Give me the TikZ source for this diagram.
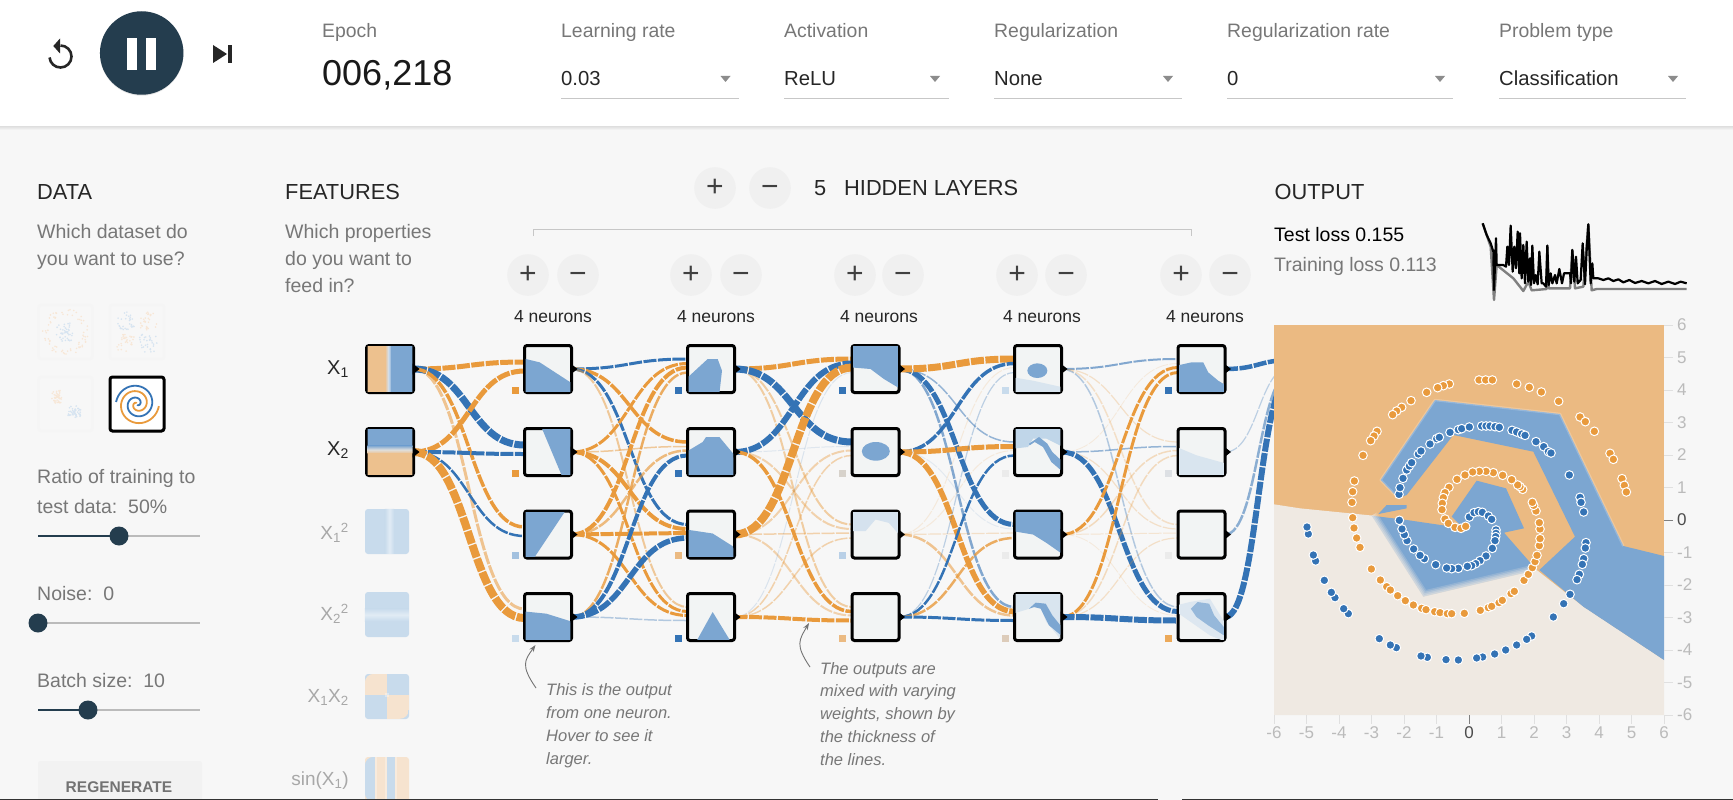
\documentclass[tikz,border=0pt]{standalone}
\usepackage{fontspec}
\setmainfont{Liberation Sans}
\usetikzlibrary{calc,backgrounds,shadows,arrows.meta}

\definecolor{pagebg}{HTML}{F7F7F7}
\definecolor{navy}{HTML}{243D4E}
\definecolor{linko}{HTML}{E99A3C}
\definecolor{linkb}{HTML}{3473B5}
\definecolor{heato}{HTML}{EBBA82}
\definecolor{heatg}{HTML}{EFE9E2}
\definecolor{heatb}{HTML}{7CA6D1}
\definecolor{thumbbg}{HTML}{F2F4F4}
\definecolor{paleb}{HTML}{C8DBEC}
\definecolor{paleo}{HTML}{F6E3CF}
\definecolor{midgray}{HTML}{777777}
\definecolor{axisgray}{HTML}{BBBBBB}

\newcommand{\fsize}[1]{\fontsize{#1}{#1}\selectfont}
% small picture inside a box, coordinates are 3x pixels from its outer corner
\newcommand{\blob}[3][heatb]{\begin{scope}[shift={($(#2.north west)+(-1.5,-1.5)$)}, scale=1/3]
    \clip (8,8) rectangle (142,142);
    \fill[#1] #3;
\end{scope}}
\newcommand{\fblob}[3][heatb]{\begin{scope}[shift={(#2.north west)}, scale=1/3]
    \clip[rounded corners=9pt] (0,0) rectangle (132,135);
    \fill[#1] #3;
\end{scope}}

\begin{document}
\begin{tikzpicture}[
    x=1pt, y=-1pt,
    heading/.style={anchor=base west, inner sep=0, font=\fsize{21.8}, text=black!85},
    caption/.style={anchor=base west, inner sep=0, font=\fsize{19.4}, text=midgray},
    choice/.style={anchor=base west, inner sep=0, font=\fsize{20.3}, text=black!85},
    para/.style={anchor=north west, inner sep=0, align=left, text=midgray, font=\fontsize{19.5}{27}\selectfont},
    note/.style={anchor=north west, inner sep=0, align=left, text=midgray, font=\fontsize{16.5}{22.8}\selectfont\itshape},
    roundbtn/.style={circle, fill=black!6, minimum size=41.6pt, inner sep=0, text=black!75, font=\fsize{30}},
    neuronlbl/.style={inner sep=0, font=\fsize{17.5}, text=black!85},
    neuron/.style={rectangle, draw=black, line width=3pt, fill=thumbbg, minimum size=47pt, inner sep=0, outer sep=0, rounded corners=2.5pt,
        drop shadow={opacity=.18, shadow xshift=0pt, shadow yshift=-1.5pt}},
    feature/.style={rectangle, fill=paleb, minimum width=44pt, minimum height=45pt, inner sep=0, rounded corners=3pt},
    featlbl/.style={anchor=base east, inner sep=0, font=\fsize{19}, text=axisgray!90!black},
    bias/.style={rectangle, minimum size=7pt, inner sep=0},
    dataset/.style={rectangle, draw=black!4, line width=2.5pt, minimum size=54pt, inner sep=0, rounded corners=2.5pt},
    drop/.style={fill=black!45},
    rule/.style={draw=black!22, line width=1.2pt},
    wire/.style={dash pattern=on 13pt off 1.5pt, to path={let \p1=(\tikztostart), \p2=(\tikztotarget) in
        .. controls ({(\x1+\x2)/2},\y1) and ({(\x1+\x2)/2},\y2) .. (\p2)}},
    wo/.style={wire, draw=linko, line width=#1},
    wb/.style={wire, draw=linkb, line width=#1},
    track/.style={draw=axisgray, line width=2.5pt},
    filled/.style={draw=navy, line width=2.5pt},
    knob/.style={circle, fill=navy, minimum size=19pt, inner sep=0},
    pointo/.style={fill=linko, draw=white, line width=1pt},
    pointb/.style={fill=linkb, draw=white, line width=1pt},
    tick/.style={draw=black!12, line width=1pt},
    axlbl/.style={inner sep=0, font=\fsize{17}, text=axisgray}
]
\useasboundingbox (0,0) rectangle (1733,800);

% Fond et bandeau du haut
\begin{pgfonlayer}{background}
\fill[pagebg] (0,0) rectangle (1733,800);
\shade[top color=black!13, bottom color=pagebg] (0,126) rectangle (1733,130);
\fill[white] (0,0) rectangle (1733,126);
\end{pgfonlayer}

% Boutons de lecture
\draw[black!85, line width=2.6pt] (60.5,45.5) arc[start angle=90, end angle=-175, radius=11pt];
\fill[black!85] (60,38.5) -- (53.3,46) -- (60,53.5) -- cycle;
\node[circle, fill=navy, minimum size=83.5pt, inner sep=0, drop shadow={opacity=.2, shadow xshift=0pt, shadow yshift=-1pt}] (play) at (141.7,53) {};
\fill[white] (127,37.7) rectangle (136.7,70);
\fill[white] (146.3,37.7) rectangle (156,70);
\fill[black!85] (213,45) -- (227,54) -- (213,63) -- cycle;
\fill[black!85] (228,45) rectangle (232,63);

% Menus du haut
\node[caption] (epoch) at (322,38) {Epoch};
\node[anchor=base west, inner sep=0, font=\fsize{36}, text=black!90] (count) at (322,85) {006,218};

\node[caption] (lrate) at (561,38) {Learning rate};
\node[choice] (lrateval) at (561,85) {0.03};
\draw[rule] (561,98.7) -- (739,98.7);
\fill[drop] (720.5,76) -- (730.5,76) -- (725.5,82) -- cycle;

\node[caption] (activ) at (784,38) {Activation};
\node[choice] (activval) at (784,85) {ReLU};
\draw[rule] (784,98.7) -- (949,98.7);
\fill[drop] (930,76) -- (940,76) -- (935,82) -- cycle;

\node[caption] (regul) at (994,38) {Regularization};
\node[choice] (regulval) at (994,85) {None};
\draw[rule] (994,98.7) -- (1181.5,98.7);
\fill[drop] (1163,76) -- (1173,76) -- (1168,82) -- cycle;

\node[caption] (rrate) at (1227,38) {Regularization rate};
\node[choice] (rrateval) at (1227,85) {0};
\draw[rule] (1227,98.7) -- (1453,98.7);
\fill[drop] (1435,76) -- (1445,76) -- (1440,82) -- cycle;

\node[caption] (ptype) at (1499,38) {Problem type};
\node[choice] (ptypeval) at (1499,85) {Classification};
\draw[rule] (1499,98.7) -- (1686,98.7);
\fill[drop] (1668,76) -- (1678,76) -- (1673,82) -- cycle;

% Colonne des donnees
\node[heading] (data) at (37,199) {DATA};
\node[para] (datatxt) at (37,224) {Which dataset do\\you want to use?};

\node[dataset] (ds1) at (65.5,332) {};
\node[dataset] (ds2) at (137,332) {};
\node[dataset] (ds3) at (65.5,404) {};
\node[dataset, draw=black, line width=3pt, fill=white, drop shadow={opacity=.18, shadow xshift=0pt, shadow yshift=-1.5pt}] (ds4) at (137,404) {};

\colorlet{dotb}{paleb!75!white}
\colorlet{doto}{paleo!85!white}
\pgfmathsetseed{7}
\foreach \i in {1,...,70} {
    \pgfmathsetmacro{\ang}{rnd*360}
    \pgfmathsetmacro{\rad}{17+rnd*6}
    \fill[doto] ({65.5+\rad*cos(\ang)},{332+\rad*sin(\ang)}) circle[radius=.9pt];
}
\foreach \i in {1,...,45} {
    \pgfmathsetmacro{\ang}{rnd*360}
    \pgfmathsetmacro{\rad}{rnd*10}
    \fill[dotb] ({65.5+\rad*cos(\ang)},{332+\rad*sin(\ang)}) circle[radius=.9pt];
    \fill[doto] ({57.3+.6*\rad*cos(\ang)},{396.7+.7*\rad*sin(\ang)}) circle[radius=.9pt];
    \fill[dotb] ({74.3+.7*\rad*sin(\ang)},{412.3+.7*\rad*cos(\ang)}) circle[radius=.9pt];
}
\foreach \cx/\cy/\cc in {126/321/dotb, 148/321/doto, 126/343/doto, 148/343/dotb} {
    \foreach \i in {1,...,30} {
        \fill[\cc] ({\cx-9+rnd*18},{\cy-9+rnd*18}) circle[radius=.9pt];
    }
}
\draw[linko, line width=1.8pt] plot[domain=.04:1, samples=70, smooth] ({137+22*\x*cos(-5-630*(1-\x))},{404-22*\x*sin(-5-630*(1-\x))});
\draw[linkb, line width=1.8pt] plot[domain=.04:1, samples=70, smooth] ({137+21*\x*cos(175-630*(1-\x))},{404-21*\x*sin(175-630*(1-\x))});

\node[para, font=\fontsize{19.5}{30}\selectfont] (ratio) at (37,469) {Ratio of training to\\test data:\ \ 50\%};
\draw[track] (38,536) -- (200,536);
\draw[filled] (38,536) -- (119,536);
\node[knob] (ratiok) at (119,536) {};

\node[anchor=base west, inner sep=0, font=\fsize{19.5}, text=midgray] (noise) at (37,600) {Noise:\ \ 0};
\draw[track] (38,623) -- (200,623);
\node[knob] (noisek) at (38,623) {};

\node[anchor=base west, inner sep=0, font=\fsize{19.5}, text=midgray] (batch) at (37,687) {Batch size:\ \ 10};
\draw[track] (38,710) -- (200,710);
\draw[filled] (38,710) -- (88,710);
\node[knob] (batchk) at (88,710) {};

\node[rectangle, fill=black!5, minimum width=164pt, minimum height=60pt, rounded corners=2.5pt, inner sep=0] (regen) at (120,791) {};
\node[inner sep=0, font=\fsize{15.5}\bfseries, text=black!55] (regentxt) at (119,787) {REGENERATE};

% Colonne des entrees
\node[heading] (feat) at (285,199) {FEATURES};
\node[para] (feattxt) at (285,224) {Which properties\\do you want to\\feed in?};

\node[anchor=base east, inner sep=0, font=\fsize{20}, text=black!85] (lx1) at (349,374) {X\textsubscript{1}};
\node[anchor=base east, inner sep=0, font=\fsize{20}, text=black!85] (lx2) at (349,455) {X\textsubscript{2}};
\node[featlbl] (lx1s) at (349,539) {X\textsubscript{1}\textsuperscript{2}};
\node[featlbl] (lx2s) at (349,620) {X\textsubscript{2}\textsuperscript{2}};
\node[featlbl] (lx1x2) at (349,702) {X\textsubscript{1}X\textsubscript{2}};
\node[featlbl] (lsin) at (349,785) {sin(X\textsubscript{1})};

\node[neuron] (x1) at (390,369) {};
\node[neuron] (x2) at (390,452) {};
\blob[{fill=heato!90!white}]{x1}{(0,0) rectangle (62,150)}
\blob[{left color=heato!90!white, right color=heatb, middle color=heatb!35!white}]{x1}{(60,0) rectangle (80,150)}
\blob{x1}{(78,0) rectangle (150,150)}
\blob{x2}{(0,0) rectangle (150,58)}
\blob[{top color=heatb, bottom color=heato!90!white, middle color=paleb!50!paleo}]{x2}{(0,56) rectangle (150,80)}
\blob[{fill=heato!90!white}]{x2}{(0,78) rectangle (150,150)}

\node[feature] (fx1s) at (387,531.5) {};
\node[feature] (fx2s) at (387,614.5) {};
\node[feature] (fx1x2) at (387,696.5) {};
\node[feature, fill=paleo] (fsin) at (387,779.5) {};
\fblob[{left color=paleb, right color=paleb, middle color=paleb!55!white}]{fx1s}{(60,0) rectangle (88,135)}
\fblob[{top color=paleb, bottom color=paleb, middle color=paleb!55!white}]{fx2s}{(0,50) rectangle (132,88)}
\fblob[paleo]{fx1x2}{(0,0) rectangle (66,63)}
\fblob[paleo]{fx1x2}{(66,63) rectangle (132,135)}
\fblob[{fill=white,opacity=.35}]{fx1x2}{(60,57) rectangle (72,69)}
\fblob[paleb]{fsin}{(0,0) rectangle (30,135)}
\fblob[paleb]{fsin}{(68,0) rectangle (92,135)}
\fblob[{fill=white,opacity=.3}]{fsin}{(30,0) rectangle (36,135)}
\fblob[{fill=white,opacity=.3}]{fsin}{(62,0) rectangle (68,135)}
\fblob[{fill=white,opacity=.3}]{fsin}{(92,0) rectangle (98,135)}

% Couches cachees
\node[roundbtn] (addlayer) at (715,188) {+};
\node[roundbtn] (dellayer) at (770,188) {\vphantom{+}−};
\node[anchor=base west, inner sep=0, font=\fsize{21.8}, text=black!85] (nlayers) at (814,195) {5};
\node[anchor=base west, inner sep=0, font=\fsize{21.8}, text=black!85] (hlayers) at (844,195) {HIDDEN LAYERS};
\draw[rule, line width=1pt] (533,236) -- (533,229) -- (1191,229) -- (1191,236);

\node[roundbtn] (add1) at (528,275) {+};
\node[roundbtn] (del1) at (578,275) {\vphantom{+}−};
\node[roundbtn] (add2) at (691,275) {+};
\node[roundbtn] (del2) at (741,275) {\vphantom{+}−};
\node[roundbtn] (add3) at (855,275) {+};
\node[roundbtn] (del3) at (903,275) {\vphantom{+}−};
\node[roundbtn] (add4) at (1017,275) {+};
\node[roundbtn] (del4) at (1066,275) {\vphantom{+}−};
\node[roundbtn] (add5) at (1181,275) {+};
\node[roundbtn] (del5) at (1230,275) {\vphantom{+}−};

\node[neuronlbl] (c1) at (553,317) {4 neurons};
\node[neuronlbl] (c2) at (716,317) {4 neurons};
\node[neuronlbl] (c3) at (879,317) {4 neurons};
\node[neuronlbl] (c4) at (1042,317) {4 neurons};
\node[neuronlbl] (c5) at (1205,317) {4 neurons};

% Neurones (couche 1 a 5)
\node[neuron] (n11) at (548,369) {};
\node[neuron] (n12) at (548,452) {};
\node[neuron] (n13) at (548,534.5) {};
\node[neuron] (n14) at (548,617) {};

\node[neuron] (n21) at (711,369) {};
\node[neuron] (n22) at (711,452) {};
\node[neuron] (n23) at (711,534.5) {};
\node[neuron] (n24) at (711,617) {};

\node[neuron] (n31) at (875.5,369) {};
\node[neuron] (n32) at (875.5,452) {};
\node[neuron] (n33) at (875.5,534.5) {};
\node[neuron] (n34) at (875.5,617) {};

\node[neuron] (n41) at (1038,369) {};
\node[neuron] (n42) at (1038,452) {};
\node[neuron] (n43) at (1038,534.5) {};
\node[neuron] (n44) at (1038,617) {};

\node[neuron] (n51) at (1201.5,369) {};
\node[neuron] (n52) at (1201.5,452) {};
\node[neuron] (n53) at (1201.5,534.5) {};
\node[neuron] (n54) at (1201.5,617) {};

% Images des neurones
\blob{n11}{(0,43)--(50,55)--(150,120)--(150,150)--(0,150)--cycle}
\blob{n12}{(55,0)--(150,0)--(150,150)--(118,150)--cycle}
\blob{n13}{(0,0)--(130,0)--(30,150)--(0,150)--cycle}
\blob{n14}{(0,58)--(70,65)--(150,90)--(150,150)--(0,150)--cycle}
\blob{n21}{(0,105)--(65,45)--(95,45)--(108,80)--(100,150)--(0,150)--cycle}
\blob{n22}{(0,75)--(50,45)--(60,30)--(100,30)--(150,90)--(150,150)--(0,150)--cycle}
\blob{n23}{(0,60)--(80,72)--(140,110)--(150,150)--(0,150)--cycle}
\blob{n24}{(30,150)--(80,60)--(135,150)--cycle}
\blob{n31}{(0,0)--(150,0)--(150,135)--(100,105)--(60,75)--(0,70)--cycle}
\blob{n32}{(76,73) ellipse[x radius=42, y radius=28]}
\blob[{fill=paleb!70!thumbbg}]{n33}{(0,0)--(150,0)--(150,80)--(115,40)--(75,30)--(45,65)--(0,65)--cycle}
\blob[{fill=paleb!60!thumbbg}]{n41}{(0,100)--(60,110)--(150,130)--(150,150)--(0,150)--cycle}
\blob{n41}{(73,80) ellipse[x radius=30, y radius=22]}
\blob[{fill=paleb!90!heatb}]{n42}{(0,0)--(150,0)--(150,60)--(130,50)--(100,35)--(60,35)--(45,60)--(0,65)--cycle}
\blob{n42}{(48,50)--(78,30)--(103,50)--(118,75)--(150,105)--(150,135)--(115,105)--(90,60)--(65,45)--(50,55)--cycle}
\blob{n43}{(0,0)--(150,0)--(150,135)--(100,100)--(60,75)--(0,65)--cycle}
\blob[{fill=paleb!60!thumbbg}]{n44}{(0,0)--(150,0)--(150,150)--(100,90)--(80,40)--(50,50)--(0,65)--cycle}
\blob{n44}{(48,50)--(68,32)--(98,35)--(118,70)--(150,110)--(150,135)--(108,100)--(83,50)--(63,45)--cycle}
\blob{n51}{(0,65)--(45,55)--(80,55)--(95,85)--(125,110)--(150,125)--(150,150)--(0,150)--cycle}
\blob[{fill=paleb!60!thumbbg}]{n52}{(0,60)--(60,85)--(150,110)--(150,150)--(0,150)--cycle}
\blob[{fill=paleb!50!thumbbg}]{n54}{(0,40)--(40,30)--(100,20)--(150,100)--(150,150)--(100,130)--(0,60)--cycle}
\blob[{fill=heatb!80!white}]{n54}{(43,50)--(63,30)--(98,35)--(113,70)--(150,115)--(150,135)--(95,100)--(60,75)--cycle}

% Petits carres (biais)
\node[bias, fill=linko] (b11) at (515.5,390) {};
\node[bias, fill=linko] (b12) at (515.5,473) {};
\node[bias, fill=heatb!70!white] (b13) at (515.5,555.5) {};
\node[bias, fill=paleb] (b14) at (515.5,638) {};
\node[bias, fill=linkb] (b21) at (678.5,390) {};
\node[bias, fill=linkb] (b22) at (678.5,473) {};
\node[bias, fill=heato] (b23) at (678.5,555.5) {};
\node[bias, fill=linkb] (b24) at (678.5,638) {};
\node[bias, fill=linkb] (b31) at (842.5,390) {};
\node[bias, fill=heatg!90!black] (b32) at (842.5,473) {};
\node[bias, fill=paleb!80!heatb] (b33) at (842.5,555.5) {};
\node[bias, fill=heato] (b34) at (842.5,638) {};
\node[bias, fill=paleb] (b41) at (1005.5,390) {};
\node[bias, fill=black!8] (b42) at (1005.5,473) {};
\node[bias, fill=black!8] (b43) at (1005.5,555.5) {};
\node[bias, fill=paleo!90!black] (b44) at (1005.5,638) {};
\node[bias, fill=linkb] (b51) at (1168.5,390) {};
\node[bias, fill=paleb!70!black!30!white] (b52) at (1168.5,473) {};
\node[bias, fill=black!8] (b53) at (1168.5,555.5) {};
\node[bias, fill=linko!85!white] (b54) at (1168.5,638) {};

% Liens
\coordinate (outp) at (1292,369);
\begin{pgfonlayer}{background}
% entrees vers couche 1
\draw[wo=3pt, opacity=.55] (x1.east) to ([yshift=8pt]n14.west);
\draw[wo=5pt] (x1.east) to ([yshift=7pt]n11.west);
\draw[wb=7pt] (x1.east) to ([yshift=7pt]n12.west);
\draw[wo=3.5pt] (x1.east) to ([yshift=7.5pt]n13.west);
\draw[wo=5pt] (x2.east) to ([yshift=-2pt]n11.west);
\draw[wb=4pt] (x2.east) to ([yshift=-2pt]n12.west);
\draw[wb=2.5pt] (x2.east) to ([yshift=-1.5pt]n13.west);
\draw[wo=8pt] (x2.east) to ([yshift=-1pt]n14.west);
% couche 1 vers couche 2
\draw[wb=3pt] (n11.east) to ([yshift=10pt]n21.west);
\draw[wo=3.5pt] (n11.east) to ([yshift=10pt]n22.west);
\draw[wb=3pt] (n11.east) to ([yshift=10pt]n23.west);
\draw[wo=2pt, opacity=.5] (n11.east) to ([yshift=10pt]n24.west);
\draw[wo=3pt] (n12.east) to ([yshift=5.5pt]n21.west);
\draw[wo=1.5pt, opacity=.5] (n12.east) to ([yshift=5.5pt]n22.west);
\draw[wo=4pt] (n12.east) to ([yshift=5.5pt]n23.west);
\draw[wo=3pt] (n12.east) to ([yshift=5.5pt]n24.west);
\draw[wo=4pt] (n13.east) to ([yshift=1.5pt]n21.west);
\draw[wo=2.5pt, opacity=.65] (n13.east) to ([yshift=1.5pt]n22.west);
\draw[wo=4pt] (n13.east) to ([yshift=1.5pt]n23.west);
\draw[wo=3pt] (n13.east) to ([yshift=1.5pt]n24.west);
\draw[wo=2.5pt, opacity=.8] (n14.east) to ([yshift=-3.5pt]n21.west);
\draw[wb=4pt] (n14.east) to ([yshift=-3.5pt]n22.west);
\draw[wb=5.5pt] (n14.east) to ([yshift=-3.5pt]n23.west);
\draw[wb=1.5pt, opacity=.35] (n14.east) to ([yshift=-3.5pt]n24.west);
% couche 2 vers couche 3
\draw[wo=2pt, opacity=.45] (n21.east) to ([yshift=10pt]n33.west);
\draw[wo=2pt, opacity=.45] (n21.east) to ([yshift=10pt]n34.west);
\draw[wo=5pt] (n21.east) to ([yshift=10pt]n31.west);
\draw[wb=7pt] (n21.east) to ([yshift=10pt]n32.west);
\draw[wb=6pt] (n22.east) to ([yshift=5.5pt]n31.west);
\draw[wb=1pt, opacity=.12] (n22.east) to ([yshift=5.5pt]n32.west);
\draw[wo=2pt, opacity=.4] (n22.east) to ([yshift=5.5pt]n33.west);
\draw[wo=3.5pt] (n22.east) to ([yshift=5.5pt]n34.west);
\draw[wo=2pt, opacity=.4] (n23.east) to ([yshift=1.5pt]n32.west);
\draw[wo=1.5pt, opacity=.4] (n23.east) to ([yshift=1.5pt]n33.west);
\draw[wo=2pt, opacity=.4] (n23.east) to ([yshift=1.5pt]n34.west);
\draw[wo=8pt] (n23.east) to ([yshift=1.5pt]n31.west);
\draw[wb=1pt, opacity=.15] (n24.east) to ([yshift=-3.5pt]n31.west);
\draw[wo=1.5pt, opacity=.4] (n24.east) to ([yshift=-3.5pt]n32.west);
\draw[wo=1.5pt, opacity=.4] (n24.east) to ([yshift=-3.5pt]n33.west);
\draw[wo=4pt] (n24.east) to ([yshift=-3.5pt]n34.west);
% couche 3 vers couche 4
\draw[wb=1.5pt, opacity=.5] (n31.east) to ([yshift=10pt]n42.west);
\draw[wb=2.5pt, opacity=.6] (n31.east) to ([yshift=10pt]n44.west);
\draw[wb=5pt] (n31.east) to ([yshift=10pt]n43.west);
\draw[wo=7pt] (n31.east) to ([yshift=10pt]n41.west);
\draw[wb=3.5pt] (n32.east) to ([yshift=5.5pt]n41.west);
\draw[wo=5pt] (n32.east) to ([yshift=5.5pt]n42.west);
\draw[wb=1pt, opacity=.1] (n32.east) to ([yshift=5.5pt]n43.west);
\draw[wo=5.5pt] (n32.east) to ([yshift=5.5pt]n44.west);
\draw[wo=1pt, opacity=.15] (n33.east) to ([yshift=1.5pt]n41.west);
\draw[wo=1pt, opacity=.15] (n33.east) to ([yshift=1.5pt]n42.west);
\draw[wo=1.2pt, opacity=.25] (n33.east) to ([yshift=1.5pt]n43.west);
\draw[wo=2.5pt, opacity=.55] (n33.east) to ([yshift=1.5pt]n44.west);
\draw[wb=1.2pt, opacity=.3] (n34.east) to ([yshift=-3.5pt]n41.west);
\draw[wb=2.5pt] (n34.east) to ([yshift=-3.5pt]n42.west);
\draw[wo=2.5pt, opacity=.8] (n34.east) to ([yshift=-3.5pt]n43.west);
\draw[wb=3pt] (n34.east) to ([yshift=-3.5pt]n44.west);
% couche 4 vers couche 5
\draw[wb=2pt, opacity=.6] (n41.east) to ([yshift=10pt]n51.west);
\draw[wo=1.2pt, opacity=.25] (n41.east) to ([yshift=10pt]n52.west);
\draw[wo=1.5pt, opacity=.25] (n41.east) to ([yshift=10pt]n53.west);
\draw[wb=1.5pt, opacity=.35] (n41.east) to ([yshift=10pt]n54.west);
\draw[wo=.8pt, opacity=.15] (n42.east) to ([yshift=5.5pt]n51.west);
\draw[wb=1.5pt, opacity=.5] (n42.east) to ([yshift=5.5pt]n52.west);
\draw[wo=1.2pt, opacity=.25] (n42.east) to ([yshift=5.5pt]n53.west);
\draw[wb=5pt] (n42.east) to ([yshift=5.5pt]n54.west);
\draw[wo=3pt] (n43.east) to ([yshift=1.5pt]n51.west);
\draw[wo=1.5pt, opacity=.3] (n43.east) to ([yshift=1.5pt]n52.west);
\draw[wo=1pt, opacity=.2] (n43.east) to ([yshift=1.5pt]n53.west);
\draw[wo=.8pt, opacity=.15] (n43.east) to ([yshift=1.5pt]n54.west);
\draw[wo=3pt] (n44.east) to ([yshift=-3.5pt]n51.west);
\draw[wo=1.5pt, opacity=.3] (n44.east) to ([yshift=-3.5pt]n52.west);
\draw[wo=1.2pt, opacity=.25] (n44.east) to ([yshift=-3.5pt]n53.west);
\draw[wb=6pt] (n44.east) to ([yshift=-3.5pt]n54.west);
% couche 5 vers la sortie
\draw[wb=4.5pt] (n51.east) to ([yshift=9pt]outp);
\draw[wb=1.2pt, opacity=.3] (n52.east) to ([yshift=3pt]outp);
\draw[wb=2.5pt, opacity=.55] (n53.east) to ([yshift=-2pt]outp);
\draw[wb=6pt] (n54.east) to ([yshift=-6pt]outp);
\end{pgfonlayer}

% Petits triangles de sortie
\foreach \n in {x1,x2,n11,n12,n13,n14,n21,n22,n23,n24,n31,n32,n33,n34,n41,n42,n43,n44,n51,n52,n53,n54} {
    \fill[black] ($(\n.east)+(-1,-5.5)$) -- ($(\n.east)+(6,0)$) -- ($(\n.east)+(-1,5.5)$) -- cycle;
}

% Annotations
\node[note] (note1) at (546,683.5) {This is the output\\from one neuron.\\Hover to see it\\larger.};
\node[note] (note2) at (820,662) {The outputs are\\mixed with varying\\weights, shown by\\the thickness of\\the lines.};
\coordinate (tip1) at (535.5,645);
\coordinate (tip2) at (809,623);
\draw[black!55, line width=.9pt, -{Stealth[length=7pt,width=5pt]}] (536,688) .. controls (520,665) and (525,660) .. (tip1);
\draw[black!55, line width=.9pt, -{Stealth[length=7pt,width=5pt]}] (810,667) .. controls (795,645) and (799,640) .. (tip2);

% Colonne de sortie
\node[heading] (output) at (1274.5,199) {OUTPUT};
\node[anchor=base west, inner sep=0, font=\fsize{19.5}, text=black] (tloss) at (1274,241) {Test loss 0.155};
\node[anchor=base west, inner sep=0, font=\fsize{19.5}, text=midgray] (trloss) at (1274,271) {Training loss 0.113};

% Courbe de perte
\begin{scope}[shift={(1470,215)}, scale=1/3]
\draw[black!50, line width=2.4pt, line join=round] (38,25) -- (62,95) -- (72,255) -- (80,150) -- (130,190) -- (160,228) -- (175,200) -- (185,226) -- (230,222) -- (232,92) -- (236,220) -- (300,220) -- (307,105) -- (315,220) -- (340,215) -- (355,28) -- (365,226) -- (380,222) -- (650,222);
\draw[black, line width=2.2pt, line join=round] (38,25) -- (50,60) -- (62,85) -- (70,110) -- (72,225) -- (78,70) -- (80,150) -- (100,150) -- (108,155) -- (112,95) -- (117,150) -- (122,32) -- (128,170) -- (133,95) -- (138,160) -- (143,50) -- (148,175) -- (150,55) -- (155,190) -- (160,90) -- (165,205) -- (170,80) -- (175,200) -- (180,130) -- (183,210) -- (187,92) -- (192,205) -- (197,180) -- (203,208) -- (208,110) -- (215,205) -- (220,205) -- (228,215) -- (232,92) -- (236,210) -- (242,175) -- (247,205) -- (255,180) -- (260,205) -- (268,162) -- (276,205) -- (282,175) -- (300,175) -- (303,205) -- (307,105) -- (313,200) -- (318,125) -- (323,205) -- (332,195) -- (338,85) -- (345,208) -- (350,105) -- (355,28) -- (362,205) -- (367,145) -- (370,190) -- (385,190) -- (400,195) -- (415,190) -- (430,198) -- (445,193) -- (460,202) -- (478,195) -- (495,204) -- (515,198) -- (535,205) -- (555,198) -- (575,207) -- (595,200) -- (615,207) -- (632,200) -- (650,205);
\end{scope}

% Carte de sortie
\begin{scope}
\clip (1274,325) rectangle (1664,715);
\fill[heato] (1274,325) rectangle (1664,715);
\begin{scope}[shift={(1250,310)}, scale=1/3]
\fill[heatg] (72,583) -- (150,595) -- (250,605) -- (370,617) -- (520,860) -- (860,780) -- (1000,890) -- (1242,1050) -- (1242,1215) -- (72,1215) -- cycle;
% bras superieur
\fill[heatb] (392,510) -- (555,270) -- (930,312) -- (1120,708) -- (1242,738) -- (1242,1050) -- (1000,890) -- (868,780) -- (975,680) -- (850,425) -- (610,375) -- (470,555) -- (445,565) -- cycle;
\draw[white, opacity=.2, line width=2.5pt, line join=round] (445,565) -- (392,510) -- (555,270) -- (930,312) -- (1120,708);
% petit fuseau
\fill[heatb] (385,612) -- (410,585) -- (470,585) -- (470,595) -- (420,605) -- cycle;
% bras inferieur
\fill[heatb] (365,617) -- (470,630) -- (640,655) -- (605,620) -- (680,512) -- (768,535) -- (822,655) -- (762,668) -- (860,780) -- (520,860) -- cycle;
\draw[heatg, opacity=.2, line width=12pt, line join=round] (365,617) -- (520,860) -- (860,780);
\draw[heatg, opacity=.25, line width=9pt, line join=round] (365,617) -- (520,860) -- (860,780);
\draw[heatg, opacity=.3, line width=6pt, line join=round] (365,617) -- (520,860) -- (860,780);
\draw[heatg, opacity=.35, line width=3pt, line join=round] (365,617) -- (520,860) -- (860,780);
% points orange
\foreach \u/\v in {598/222,580/227,563/233,530/247,483/272,455/292,440/303,428/314,381/364,372/378,362/392,339/436,313/513,308/545,306/577,308/623,312/654,320/684,330/712,364/777,391/810,410/830,421/840,443/857,466/872,490/885,515/895,528/899,554/905,570/908,592/911,605/911,643/910,691/901,715/893,725/889,747/878,757/871,783/851,793/844,822/811,835/793,847/773,855/755,861/736,868/707,870/686,870/657,868/638,858/603,851/586,847/577,818/538,810/530,803/525,785/509,758/496,730/488,708/484,688/484,668/486,645/495,621/508,597/532,585/548,580/563,577/580,576/599,585/627,595/640,615/652,633/655,647/649,687/210,707/210,727/210,800/222,838/232,874/246,926/274,990/321,1006/335,1033/364,1080/430,1090/448,1116/506,1123/526,1129/546} {
    \filldraw[pointo] (\u,\v) circle[radius=13pt];
}
% points bleus
\foreach \u/\v in {658/621,672/608,685/605,697/607,715/618,725/628,738/660,738/670,737/680,735/692,727/715,708/738,690/752,677/761,665/767,652/769,625/775,605/776,590/774,557/764,523/746,510/736,491/717,471/692,463/674,456/657,448/631,447/553,450/533,459/505,470/480,478/468,485/458,505/432,513/423,540/402,560/386,568/382,600/367,625/359,635/356,658/351,695/348,708/348,720/348,735/350,748/352,786/361,800/366,815/372,825/376,858/395,881/410,895/425,903/429,958/495,990/562,993/577,1001/606,1008/698,1006/714,1001/746,997/763,988/793,981/809,960/853,941/881,910/921,845/978,830/988,800/1005,767/1020,734/1032,698/1041,680/1044,625/1050,588/1049,532/1042,513/1038,439/1013,421/1005,388/986,295/911,281/896,255/863,244/847,223/811,197/753,190/735,175/672,171/651} {
    \filldraw[pointb] (\u,\v) circle[radius=13pt];
}
\end{scope}
\end{scope}

% Axes
\foreach \v/\ty in {6/325,5/357.5,4/390,3/422.5,2/455,1/487.5,-1/552.5,-2/585,-3/617.5,-4/650,-5/682.5,-6/715} {
    \draw[tick] (1664,\ty) -- (1673,\ty);
    \node[axlbl, anchor=west] at (1677,\ty) {\v};
}
\draw[tick, draw=black!50] (1664,520) -- (1673,520);
\node[axlbl, anchor=west, text=black!70] (ay0) at (1677,520) {0};
\foreach \v/\tx in {-6/1274,-5/1306.5,-4/1339,-3/1371.5,-2/1404,-1/1436.5,1/1501.5,2/1534,3/1566.5,4/1599,5/1631.5,6/1664} {
    \draw[tick] (\tx,715) -- (\tx,724);
    \node[axlbl] at (\tx,733) {\v};
}
\draw[tick, draw=black!50] (1469,715) -- (1469,724);
\node[axlbl, text=black!70] (ax0) at (1469,733) {0};

% Trait du bas
\fill[black!80] (0,798.5) rectangle (1158,800);
\fill[black!80] (1182,798.5) rectangle (1733,800);

\end{tikzpicture}
\end{document}
